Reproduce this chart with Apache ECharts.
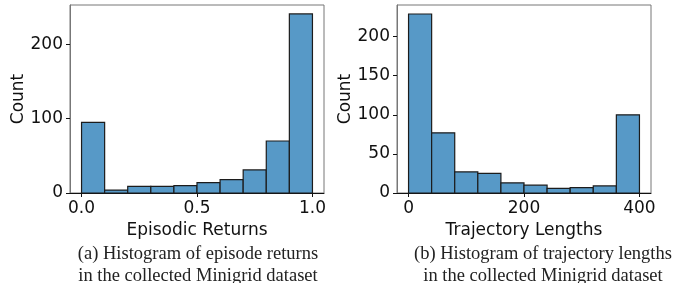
<!DOCTYPE html>
<html>
<head>
<meta charset="utf-8">
<title>Minigrid histograms</title>
<script src="https://cdn.jsdelivr.net/npm/echarts@6/dist/echarts.min.js"></script>
<style>
html, body { margin: 0; padding: 0; background: #fff; }
#chart { width: 678px; height: 283px; }
</style>
</head>
<body>
<div id="chart"></div>
<script>
// bin edges and counts
var returnEdges = [0.0, 0.1, 0.2, 0.3, 0.4, 0.5, 0.6, 0.7, 0.8, 0.9, 1.0];
var returnCounts = [95, 4, 9, 9, 10, 14, 18, 31, 70, 241];
var returnTicksX = [0, 0.5, 1];
var returnTicksY = [0, 100, 200];

var lengthEdges = [0, 40, 80, 120, 160, 200, 240, 280, 320, 360, 400];
var lengthCounts = [229, 77, 27, 25, 13, 10, 6, 7, 9, 100];
var lengthTicksX = [0, 200, 400];
var lengthTicksY = [0, 50, 100, 150, 200];

var captionA = '(a) Histogram of episode returns\nin the collected Minigrid dataset';
var captionB = '(b) Histogram of trajectory lengths\nin the collected Minigrid dataset';

var barFill = '#5799c7';
var barEdge = '#1c1c1c';
var spineGray = '#777777';
var tickFont = '"DejaVu Sans"';
var fontSz = 17;

function toBins(edges, counts) {
	var out = [];
	for (var i = 0; i < counts.length; i++) {
		out.push([edges[i], edges[i + 1], counts[i]]);
	}
	return out;
}

function renderBin(params, api) {
	var p0 = api.coord([api.value(0), api.value(2)]);
	var p1 = api.coord([api.value(1), 0]);
	return {
		type : 'rect',
		shape : {
			x : p0[0],
			y : p0[1],
			width : p1[0] - p0[0],
			height : p1[1] - p0[1]
		},
		style : {
			fill : barFill,
			stroke : barEdge,
			lineWidth : 1.2
		}
	};
}

function xAxisOf(idx, min, max, ticks, name, fmt) {
	return {
		type : 'value',
		gridIndex : idx,
		min : min,
		max : max,
		name : name,
		nameLocation : 'middle',
		nameGap : 25,
		nameTextStyle : { fontFamily : tickFont, fontSize : fontSz, color : '#111' },
		axisLine : { show : true, onZero : false, lineStyle : { color : '#111', width : 1 } },
		axisTick : { show : true, customValues : ticks, length : 4, lineStyle : { color : '#111' } },
		axisLabel : {
			customValues : ticks,
			fontFamily : tickFont,
			fontSize : fontSz,
			color : '#111',
			margin : 7,
			formatter : fmt
		},
		splitLine : { show : false }
	};
}

function yAxisOf(idx, max, ticks, gap) {
	return {
		type : 'value',
		gridIndex : idx,
		min : 0,
		max : max,
		name : 'Count',
		nameLocation : 'middle',
		nameGap : gap,
		nameRotate : 90,
		nameTextStyle : { fontFamily : tickFont, fontSize : fontSz, color : '#111' },
		axisLine : { show : true, onZero : false, lineStyle : { color : spineGray, width : 1 } },
		axisTick : { show : true, customValues : ticks, length : 4, lineStyle : { color : '#111' } },
		axisLabel : {
			customValues : ticks,
			fontFamily : tickFont,
			fontSize : fontSz,
			color : '#111',
			margin : 7
		},
		splitLine : { show : false }
	};
}

var chart = echarts.init(document.getElementById('chart'), null, { renderer : 'canvas' });
chart.setOption({
	animation : false,
	backgroundColor : '#fff',
	title : [ {
		text : captionA,
		left : 193,
		top : 238,
		textAlign : 'center',
		textStyle : {
			fontFamily : '"Liberation Serif"',
			fontWeight : 'normal',
			fontSize : 18.5,
			lineHeight : 22,
			color : '#222'
		}
	}, {
		text : captionB,
		left : 538,
		top : 238,
		textAlign : 'center',
		textStyle : {
			fontFamily : '"Liberation Serif"',
			fontWeight : 'normal',
			fontSize : 18.5,
			lineHeight : 22,
			color : '#222'
		}
	} ],
	grid : [ {
		left : 70, right : 354, top : 5, bottom : 90,
		show : true, borderColor : spineGray, borderWidth : 1
	}, {
		left : 397, right : 27, top : 5, bottom : 90,
		show : true, borderColor : spineGray, borderWidth : 1
	} ],
	xAxis : [
		xAxisOf(0, -0.05, 1.05, returnTicksX, 'Episodic Returns', function(v) { return v.toFixed(1); }),
		xAxisOf(1, -20, 420, lengthTicksX, 'Trajectory Lengths', function(v) { return String(v); })
	],
	yAxis : [
		yAxisOf(0, 253, returnTicksY, 40),
		yAxisOf(1, 240.5, lengthTicksY, 40)
	],
	series : [ {
		type : 'custom',
		xAxisIndex : 0,
		yAxisIndex : 0,
		renderItem : renderBin,
		encode : { x : [0, 1], y : 2 },
		data : toBins(returnEdges, returnCounts)
	}, {
		type : 'custom',
		xAxisIndex : 1,
		yAxisIndex : 1,
		renderItem : renderBin,
		encode : { x : [0, 1], y : 2 },
		data : toBins(lengthEdges, lengthCounts)
	} ]
});
</script>
</body>
</html>
